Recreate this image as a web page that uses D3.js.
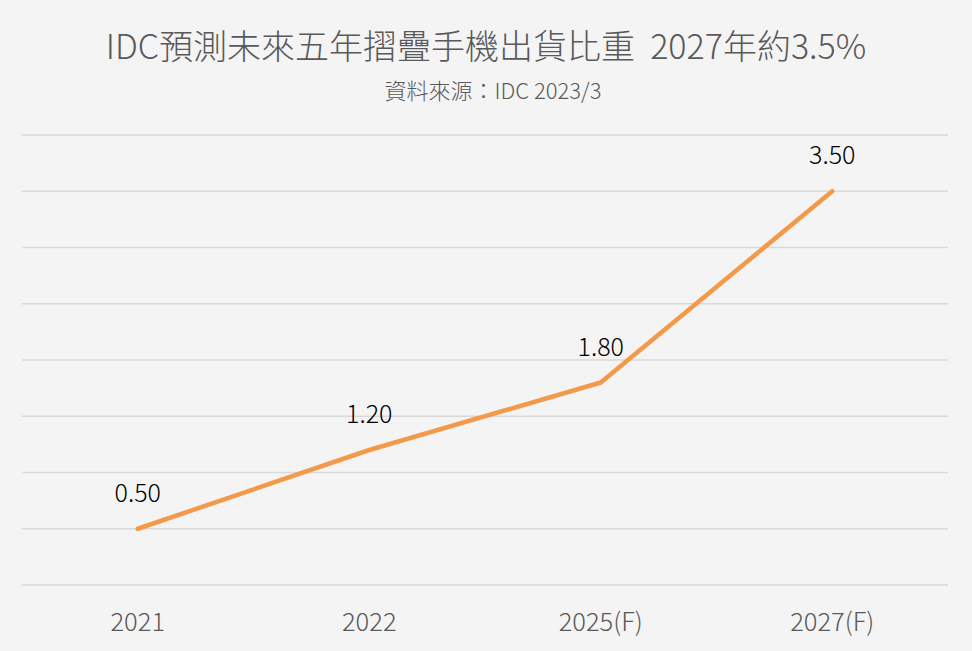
<!DOCTYPE html>
<html><head><meta charset="utf-8">
<script src="https://cdn.jsdelivr.net/npm/d3@7"></script>
<style>body{margin:0;background:#f4f4f4;}svg{display:block;}</style>
</head><body>
<svg id="c" width="972" height="651"></svg>
<script>
const categories = ["2021", "2022", "2025(F)", "2027(F)"];
const values = [0.5, 1.2, 1.8, 3.5];
const valueLabels = ["0.50", "1.20", "1.80", "3.50"];
const yTicks = [0, 0.5, 1, 1.5, 2, 2.5, 3, 3.5, 4];
const title = "IDC預測未來五年摺疊手機出貨比重\u00a0\u00a02027年約3.5%";
const subtitle = "資料來源：IDC 2023/3";

const W = 972, H = 651;
const svg = d3.select("#c");
svg.append("rect").attr("width", W).attr("height", H).attr("fill", "#f4f4f4");
const font = "'Noto Sans CJK TC','Noto Sans',sans-serif";

const x = d3.scaleBand().domain(categories).range([22, 948]);
const y = d3.scaleLinear().domain([0, 4]).range([585, 135]);

svg.append("g").selectAll("line").data(yTicks).join("line")
  .attr("x1", 22).attr("x2", 948)
  .attr("y1", d => y(d)).attr("y2", d => y(d))
  .attr("stroke", "#d9d9d9").attr("stroke-width", 1.3);

const xAxis = svg.append("g").attr("transform", "translate(0,585)")
  .call(d3.axisBottom(x).tickSize(0).tickPadding(28));
xAxis.select(".domain").remove();
xAxis.selectAll("text").attr("font-family", font).attr("font-size", 25.5).attr("font-weight", 300).attr("fill", "#595959");

const cx = d => x(d) + x.bandwidth() / 2;
const line = d3.line().x((d, i) => cx(categories[i])).y(d => y(d));
svg.append("path").datum(values).attr("d", line)
  .attr("fill", "none").attr("stroke", "#f39a4a").attr("stroke-width", 4.5)
  .attr("stroke-linejoin", "round").attr("stroke-linecap", "round");

svg.append("g").selectAll("text").data(values).join("text")
  .attr("x", (d, i) => cx(categories[i]))
  .attr("y", d => y(d) - 27)
  .attr("text-anchor", "middle")
  .attr("font-family", font).attr("font-size", 25).attr("font-weight", 300).attr("fill", "#000")
  .text((d, i) => valueLabels[i]);

svg.append("text").attr("x", 486).attr("y", 59).attr("text-anchor", "middle")
  .attr("font-family", font).attr("font-size", 34).attr("font-weight", 300).attr("fill", "#595959")
  .text(title);
svg.append("text").attr("x", 493).attr("y", 99).attr("text-anchor", "middle")
  .attr("font-family", font).attr("font-size", 22).attr("font-weight", 300).attr("fill", "#595959")
  .text(subtitle);
</script>
</body></html>
